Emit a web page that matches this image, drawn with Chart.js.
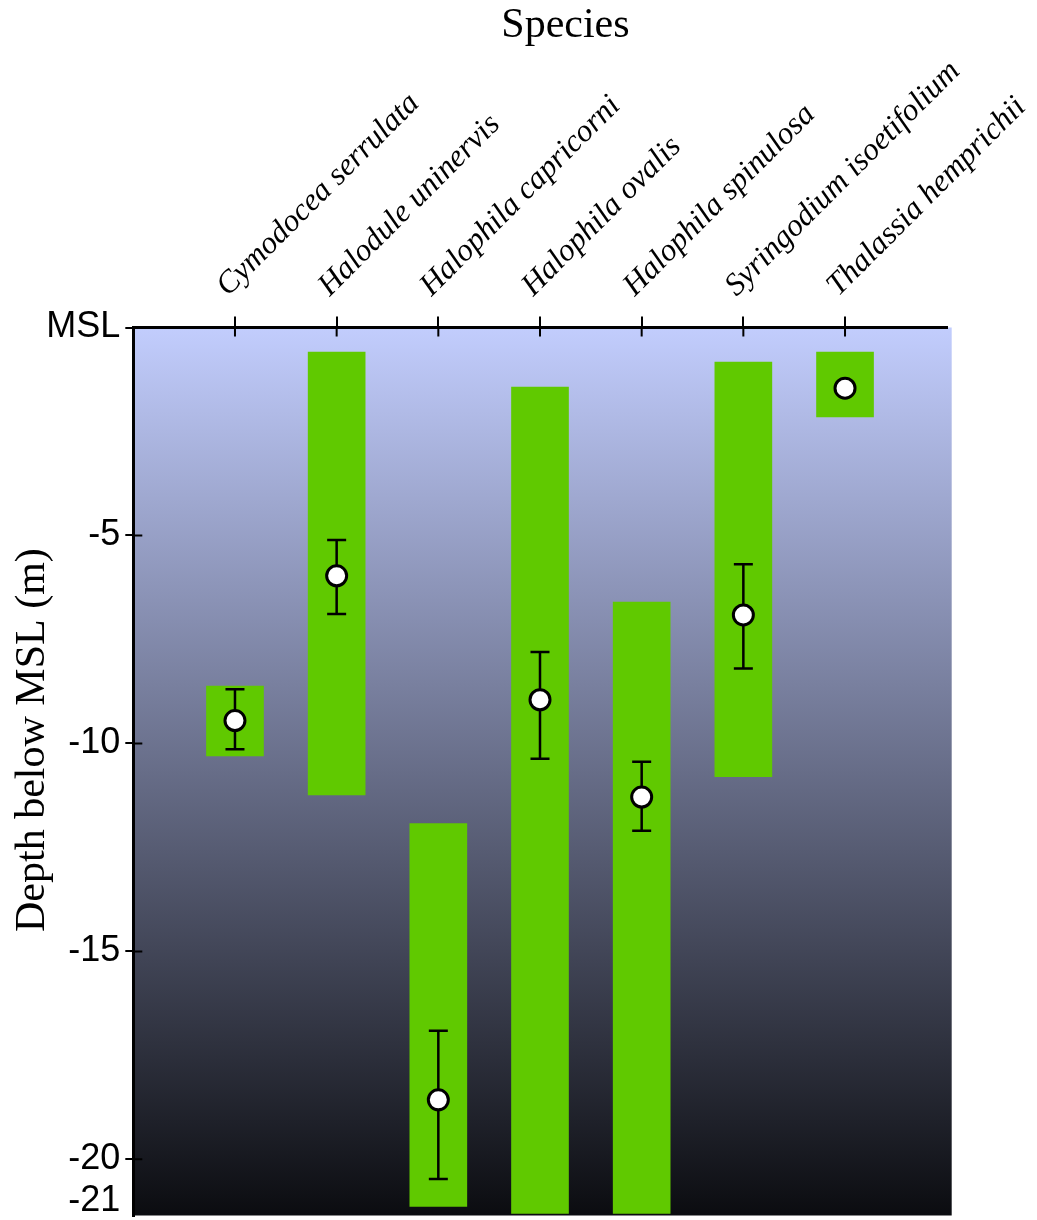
<!DOCTYPE html>
<html>
<head>
<meta charset="utf-8">
<script src="https://cdn.jsdelivr.net/npm/chart.js@4/dist/chart.umd.min.js"></script>
<style>
  html, body { margin: 0; padding: 0; background: #ffffff; }
  #wrap { width: 1037px; height: 1220px; }
</style>
</head>
<body>
<div id="wrap"><canvas id="c" width="1037" height="1220"></canvas></div>
<script>
// ---- data ----
const categories = [
  'Cymodocea serrulata', 'Halodule uninervis', 'Halophila capricorni',
  'Halophila ovalis', 'Halophila spinulosa', 'Syringodium isoetifolium',
  'Thalassia hemprichii'
];
const rangeTop    = [-8.62, -0.59, -11.93, -1.43, -6.60, -0.83, -0.59];
const rangeBottom = [-10.30, -11.24, -21.13, -21.30, -21.30, -10.80, -2.15];
const meanDepth   = [-9.45, -5.97, -18.57, -8.95, -11.29, -6.91, -1.46];
const errUpper    = [-8.70, -5.11, -16.91, -7.80, -10.44, -5.69, null];
const errLower    = [-10.14, -6.89, -20.47, -10.37, -12.10, -8.20, null];
const yTickValues = [0, -5, -10, -15, -20, -21];
const xTitle = 'Species';
const yTitle = 'Depth below MSL (m)';

const SERIF = "'Liberation Serif', 'Times New Roman', serif";
const SANS = "'Liberation Sans', Arial, sans-serif";

const backgroundPlugin = {
  id: 'bgGradient',
  beforeDraw(chart) {
    const { ctx, chartArea: a } = chart;
    const g = ctx.createLinearGradient(0, a.top, 0, a.bottom);
    g.addColorStop(0, '#c2cdfd');
    g.addColorStop(0.5, '#676d88');
    g.addColorStop(1, '#0b0c10');
    ctx.save();
    ctx.fillStyle = g;
    ctx.fillRect(a.left, a.top, a.right - a.left + 5, a.bottom - a.top);
    ctx.restore();
  }
};

const errorBarPlugin = {
  id: 'errorBars',
  afterDatasetDraw(chart, args) {
    if (args.index !== 0) return;
    const { ctx } = chart;
    const xs = chart.scales.x, ys = chart.scales.y;
    ctx.save();
    ctx.strokeStyle = '#000';
    ctx.lineWidth = 2.5;
    categories.forEach((c, i) => {
      if (errUpper[i] === null || errLower[i] === null) return;
      const x = xs.getPixelForValue(i + 1);
      const y1 = ys.getPixelForValue(errUpper[i]);
      const y2 = ys.getPixelForValue(errLower[i]);
      ctx.beginPath();
      ctx.moveTo(x, y1); ctx.lineTo(x, y2);
      ctx.moveTo(x - 9.5, y1); ctx.lineTo(x + 9.5, y1);
      ctx.moveTo(x - 9.5, y2); ctx.lineTo(x + 9.5, y2);
      ctx.stroke();
    });
    ctx.restore();
  }
};

const innerTicksPlugin = {
  id: 'innerTicks',
  afterDraw(chart) {
    const { ctx, chartArea: a } = chart;
    const xs = chart.scales.x, ys = chart.scales.y;
    ctx.save();
    ctx.strokeStyle = '#000';
    ctx.lineWidth = 2;
    ctx.beginPath();
    xs.ticks.forEach(t => {
      const x = xs.getPixelForValue(t.value);
      ctx.moveTo(x, a.top); ctx.lineTo(x, a.top + 9);
    });
    ys.ticks.forEach(t => {
      if (t.value === -21) return;
      const y = ys.getPixelForValue(t.value);
      ctx.moveTo(a.left, y); ctx.lineTo(a.left + 9, y);
    });
    ctx.stroke();
    // titles
    ctx.fillStyle = '#000';
    ctx.font = '42px ' + SERIF;
    ctx.textAlign = 'center';
    ctx.textBaseline = 'alphabetic';
    ctx.fillText(xTitle, xs.getPixelForValue(4.25), 37);
    ctx.translate(44, ys.getPixelForValue(-9.92));
    ctx.rotate(-Math.PI / 2);
    ctx.fillText(yTitle, 0, 0);
    ctx.restore();
  }
};

new Chart(document.getElementById('c'), {
  type: 'bar',
  data: {
    datasets: [
      {
        type: 'bar',
        data: categories.map((c, i) => ({ x: i + 1, y: [rangeTop[i], rangeBottom[i]] })),
        backgroundColor: '#60c900',
        borderWidth: 0,
        barThickness: 57,
        grouped: false,
        order: 1
      },
      {
        type: 'scatter',
        data: categories.map((c, i) => ({ x: i + 1, y: meanDepth[i] })),
        pointRadius: 10,
        pointBackgroundColor: '#ffffff',
        pointBorderColor: '#000000',
        pointBorderWidth: 3,
        clip: false,
        order: 0
      }
    ]
  },
  options: {
    responsive: false,
    animation: false,
    events: [],
    layout: { autoPadding: false, padding: { left: 0, top: 0, right: 90.3, bottom: 4.5 } },
    plugins: { legend: { display: false }, tooltip: { enabled: false }, title: { display: false } },
    scales: {
      x: {
        type: 'linear',
        position: 'top',
        offset: false,
        min: 0,
        max: 8,
        afterBuildTicks(scale) { scale.ticks = categories.map((c, i) => ({ value: i + 1 })); },
        afterFit(scale) { scale.height = 327.5; scale.paddingLeft = 0; scale.paddingRight = 0; },
        ticks: {
          autoSkip: false,
          minRotation: 45,
          maxRotation: 45,
          padding: 12,
          labelOffset: 14,
          color: '#000',
          font: { family: SERIF, size: 31.5, style: 'italic' },
          callback: (v) => categories[v - 1] || ''
        },
        grid: { offset: false, drawOnChartArea: false, drawTicks: true, tickLength: 11, color: '#000', lineWidth: 2 },
        border: { display: true, color: '#000', width: 3 }
      },
      y: {
        type: 'linear',
        position: 'left',
        min: -21.35,
        max: 0,
        afterBuildTicks(scale) { scale.ticks = yTickValues.map(v => ({ value: v })); },
        afterFit(scale) { scale.width = 133.3; scale.paddingTop = 0; scale.paddingBottom = 0; },
        ticks: {
          autoSkip: false,
          padding: 5,
          color: '#000',
          font: { family: SANS, size: 36 },
          callback: (v) => (v === 0 ? 'MSL' : String(v))
        },
        grid: {
          drawOnChartArea: false, drawTicks: true, tickLength: 8, lineWidth: 2,
          tickColor: (ctx) => (ctx.tick && ctx.tick.value === -21 ? 'rgba(0,0,0,0)' : '#000')
        },
        border: { display: true, color: '#000', width: 3 }
      }
    }
  },
  plugins: [backgroundPlugin, errorBarPlugin, innerTicksPlugin]
});
</script>
</body>
</html>
